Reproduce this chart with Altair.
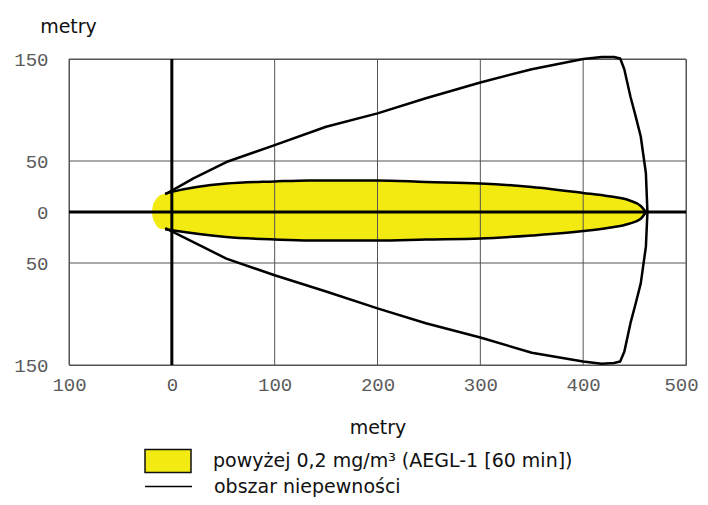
import altair as alt
import pandas as pd

# ---- data ----
x_ticks = [-100, 0, 100, 200, 300, 400, 500]
y_ticks = [-150, -50, 0, 50, 150]
x_grid = [-100, 100, 200, 300, 400, 500]
y_grid = [-150, -50, 50, 150]

# yellow zone (AEGL-1) – upper and lower boundary along the downwind axis
zone_x = [-19.4, -18.5, -16, -11.4, -6.5, 0, 53, 100, 134, 200, 247, 300, 350, 400, 425, 444.6, 456, 461]
zone_upper = [0, 6, 11.5, 16.4, 18, 19.7, 27.9, 30, 31, 31, 29.5, 28, 24.6, 18.7, 15.4, 11.5, 5.9, 0]
zone_lower = [0, -6, -11.5, -16.4, -17, -18, -24.5, -27, -28, -28, -27, -26, -23, -18.7, -15.4, -11.5, -6.6, 0]

# uncertainty envelope
outer_upper_x = [-6.5, 0, 21, 53, 100, 150, 200, 247, 300, 350, 400, 418, 430, 436, 440, 446, 451, 456, 461, 462.5]
outer_upper_y = [17.4, 21, 33, 49, 65.6, 83.6, 96.7, 111.5, 127, 140, 150, 152, 152, 150.5, 140, 113, 94, 74, 38, 0]
outer_lower_x = [-6.5, 0, 21, 53, 100, 150, 200, 247, 300, 350, 400, 418, 430, 436, 440, 446, 451, 456, 461]
outer_lower_y = [-15.8, -19, -29.5, -45.7, -62, -78, -94.5, -109, -123, -138, -146.5, -148.8, -148, -146.5, -137, -109, -90, -70, -34]

zone_label = "powyżej 0,2 mg/m³ (AEGL-1 [60 min])"
outer_label = "obszar niepewności"
axis_title = "metry"

YELLOW = "#f2ea10"
TEXT_FONT = "DejaVu Sans"
TICK_FONT = "Liberation Mono"

# ---- tables built from the arrays ----
zone_df = pd.DataFrame({"x": zone_x, "upper": zone_upper, "lower": zone_lower, "label": zone_label})

edge_start = zone_x.index(-6.5)
edge_df = pd.concat([
    pd.DataFrame({"x": zone_x[edge_start:], "y": zone_upper[edge_start:], "edge": "top"}),
    pd.DataFrame({"x": zone_x[edge_start:], "y": zone_lower[edge_start:], "edge": "bottom"}),
])

ox = outer_upper_x + outer_lower_x[::-1]
oy = outer_upper_y + outer_lower_y[::-1]
outer_df = pd.DataFrame({"x": ox, "y": oy, "order": list(range(len(ox))), "label": outer_label})

xg_df = pd.DataFrame({"x": x_grid})
yg_df = pd.DataFrame({"y": y_grid})
zero_x_df = pd.DataFrame({"x": [0]})
zero_y_df = pd.DataFrame({"y": [0]})

xscale = alt.Scale(domain=[x_ticks[0], x_ticks[-1]], nice=False, zero=False)
yscale = alt.Scale(domain=[y_ticks[0], y_ticks[-1]], nice=False, zero=False)

x_axis = alt.Axis(
    values=x_ticks, title=axis_title, labelExpr="format(abs(datum.value), 'd')",
    grid=False, domain=False, ticks=False, tickSize=0,
    labelFont=TICK_FONT, labelFontSize=19, labelColor="#5a5a5a", labelPadding=10,
    labelBaseline="top", labelFlush=False, labelOverlap=False,
    labelOffset={"condition": {"test": f"datum.value == {x_ticks[-1]}", "value": -5}, "value": 0},
    titleFont=TEXT_FONT, titleFontSize=19, titleFontWeight="normal", titleColor="#111",
    titleY=68, titleBaseline="alphabetic",
)
y_axis = alt.Axis(
    values=y_ticks, title=axis_title, labelExpr="format(abs(datum.value), 'd')",
    grid=False, domain=False, ticks=False, tickSize=0,
    labelFont=TICK_FONT, labelFontSize=19, labelColor="#5a5a5a", labelPadding=21,
    labelFlush=False, labelOverlap=False,
    titleFont=TEXT_FONT, titleFontSize=19, titleFontWeight="normal", titleColor="#111",
    titleAngle=0, titleX=-1, titleY=-27, titleAlign="center", titleBaseline="alphabetic",
)

area = alt.Chart(zone_df).mark_area(orient="vertical", interpolate="monotone", opacity=1).encode(
    x=alt.X("x:Q", scale=xscale, axis=x_axis),
    y=alt.Y("upper:Q", scale=yscale, axis=y_axis),
    y2="lower:Q",
    fill=alt.Fill("label:N", scale=alt.Scale(domain=[zone_label], range=[YELLOW]),
                  legend=alt.Legend(title=None, orient="none", legendX=75, legendY=378,
                                    symbolType="M-1,-0.5H1V0.5H-1Z", symbolSize=2116,
                                    symbolStrokeColor="#111", symbolStrokeWidth=1.5,
                                    labelFont=TEXT_FONT, labelFontSize=19, labelColor="#111",
                                    labelOffset=21, padding=0, labelLimit=600)),
)

xgrid = alt.Chart(xg_df).mark_rule(color="#555", strokeWidth=1).encode(x=alt.X("x:Q", scale=xscale))
ygrid = alt.Chart(yg_df).mark_rule(color="#555", strokeWidth=1).encode(y=alt.Y("y:Q", scale=yscale))

edges = alt.Chart(edge_df).mark_line(color="black", strokeWidth=2.5, interpolate="monotone").encode(
    x=alt.X("x:Q", scale=xscale),
    y=alt.Y("y:Q", scale=yscale),
    detail="edge:N",
)

outer = alt.Chart(outer_df).mark_line(strokeWidth=2.5, strokeJoin="round").encode(
    x=alt.X("x:Q", scale=xscale),
    y=alt.Y("y:Q", scale=yscale),
    order="order:Q",
    stroke=alt.Stroke("label:N", scale=alt.Scale(domain=[outer_label], range=["black"]),
                      legend=alt.Legend(title=None, orient="none", legendX=75, legendY=403,
                                        symbolType="stroke", symbolSize=2209, symbolStrokeWidth=1.5,
                                        labelFont=TEXT_FONT, labelFontSize=19, labelColor="#111",
                                        labelOffset=21, padding=0, labelLimit=600)),
)

zero_v = alt.Chart(zero_x_df).mark_rule(color="black", strokeWidth=3).encode(x=alt.X("x:Q", scale=xscale))
zero_h = alt.Chart(zero_y_df).mark_rule(color="black", strokeWidth=3).encode(y=alt.Y("y:Q", scale=yscale))

chart = alt.layer(area, xgrid, ygrid, edges, outer, zero_v, zero_h).resolve_scale(
    fill="independent", stroke="independent"
).properties(
    width=617, height=306,
    autosize=alt.AutoSizeParams(type="none"),
    padding={"left": 61, "top": 51, "right": 14, "bottom": 132},
    background="white",
).configure_view(stroke="#555", strokeWidth=1)

chart.save("out.html", embed_options={"renderer": "svg", "actions": False})
